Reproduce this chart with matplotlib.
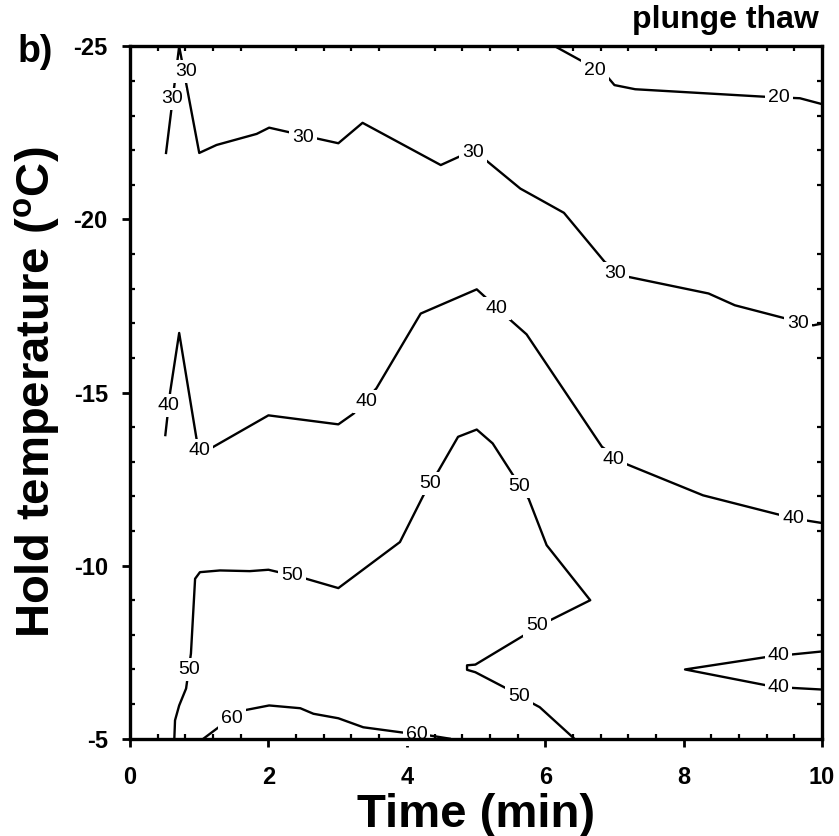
import matplotlib
matplotlib.use("Agg")
import matplotlib.pyplot as plt
from matplotlib.ticker import MultipleLocator

plt.rcParams['font.family'] = 'Liberation Sans'
plt.rcParams['axes.unicode_minus'] = False
plt.rcParams['mathtext.fontset'] = 'custom'
plt.rcParams['mathtext.rm'] = 'Liberation Sans:bold'
plt.rcParams['mathtext.bf'] = 'Liberation Sans:bold'

# contour lines: time (min) vs hold temperature (C)
c20_time = [6.14, 6.55, 6.89, 7.00, 7.30, 9.20, 9.68, 10.0]
c20_temp = [-25.0, -24.55, -24.14, -23.88, -23.76, -23.54, -23.50, -23.33]

c30_time = [0.52, 0.71, 1.00, 1.25, 1.83, 2.01, 2.67, 3.01, 3.36, 4.49, 4.93,
            5.13, 5.64, 5.92, 6.27, 6.86, 7.20, 8.36, 8.74, 9.49, 9.87, 10.0]
c30_temp = [-21.92, -25.0, -21.92, -22.15, -22.47, -22.65, -22.35, -22.20, -22.79,
            -21.57, -21.97, -21.73, -20.89, -20.58, -20.19, -18.77, -18.34, -17.86,
            -17.52, -17.13, -16.94, -16.99]

c40a_time = [0.51, 0.58, 0.71, 0.96, 1.01, 1.16, 2.00, 3.01, 3.23, 3.56, 4.20,
             5.01, 5.47, 5.73, 6.82, 7.15, 8.28, 9.42, 9.75, 10.0]
c40a_temp = [-13.77, -15.02, -16.72, -13.67, -13.27, -13.38, -14.34, -14.08, -14.39,
             -15.12, -17.28, -17.98, -17.14, -16.68, -13.43, -12.95, -12.03, -11.45,
             -11.31, -11.23]

c40b_time = [10.0, 9.20, 8.02, 9.20, 9.54, 10.0]
c40b_temp = [-7.52, -7.36, -7.00, -6.54, -6.47, -6.42]

c50_time = [0.64, 0.65, 0.71, 0.81, 0.88, 0.94, 1.01, 1.30, 1.73, 2.00, 2.51, 3.01,
            3.90, 4.24, 4.46, 4.74, 5.01, 5.24, 5.52, 5.76, 6.02, 6.65, 6.07, 5.73,
            4.99, 4.87, 4.87, 4.99, 5.47, 5.78, 5.92, 6.42]
c50_temp = [-5.0, -5.53, -5.96, -6.45, -7.46, -9.62, -9.81, -9.86, -9.84, -9.88, -9.64,
            -9.35, -10.68, -12.03, -12.75, -13.72, -13.93, -13.53, -12.66, -11.93,
            -10.59, -9.00, -8.42, -8.03, -7.14, -7.12, -6.99, -6.92, -6.42, -6.06,
            -5.91, -5.0]

c60_time = [1.06, 1.28, 1.65, 2.01, 2.46, 2.65, 3.01, 3.37, 3.93, 4.34, 4.62]
c60_temp = [-5.0, -5.33, -5.82, -5.96, -5.88, -5.72, -5.59, -5.33, -5.18, -5.09, -5.0]

lab_time = [6.72, 9.38, 0.61, 0.81, 2.50, 4.96, 7.01, 9.65, 0.56, 1.00, 3.42, 5.30,
            6.98, 9.58, 9.37, 9.37, 0.86, 2.34, 4.34, 5.62, 5.88, 5.62, 1.47, 4.14]
lab_temp = [-24.30, -23.52, -23.48, -24.28, -22.38, -21.94, -18.45, -17.00, -14.63,
            -13.33, -14.73, -17.43, -13.06, -11.37, -7.41, -6.49, -7.00, -9.72, -12.38,
            -12.28, -8.27, -6.22, -5.58, -5.12]
lab_text = ['20', '20', '30', '30', '30', '30', '30', '30', '40', '40', '40', '40',
            '40', '40', '40', '40', '50', '50', '50', '50', '50', '50', '60', '60']

fig = plt.figure(figsize=(8.39, 8.36), dpi=100)
ax = fig.add_axes([0.155, 0.1164, 0.8248, 0.8282])

lines = [(c20_time, c20_temp), (c30_time, c30_temp), (c40a_time, c40a_temp),
         (c40b_time, c40b_temp), (c50_time, c50_temp), (c60_time, c60_temp)]
for t, T in lines:
    ax.plot(t, T, color='k', lw=1.7, zorder=2)

for t, T, s in zip(lab_time, lab_temp, lab_text):
    ax.text(t, T, s, fontsize=14, ha='center', va='center', zorder=2.3,
            bbox=dict(boxstyle='square,pad=0.15', fc='white', ec='none'))

ax.set_xlim(0, 10)
ax.set_ylim(-5, -25)
ax.xaxis.set_major_locator(MultipleLocator(2))
ax.xaxis.set_minor_locator(MultipleLocator(0.4))
ax.yaxis.set_major_locator(MultipleLocator(5))
ax.yaxis.set_minor_locator(MultipleLocator(1))

ax.tick_params(which='major', direction='out', length=6, width=2,
               top=False, right=False, labelsize=17)
ax.tick_params(which='minor', direction='in', length=3.5, width=1.6,
               bottom=True, left=True, top=True, right=True)
ax.tick_params(axis='x', which='major', pad=14)
ax.tick_params(axis='y', which='major', pad=10)
for lbl in ax.get_xticklabels() + ax.get_yticklabels():
    lbl.set_fontweight('bold')
for sp in ax.spines.values():
    sp.set_linewidth(2.4)

ax.text(-0.134, 0.5, r'Hold temperature ($^{\mathbf{o}}$C)', transform=ax.transAxes,
        rotation=90, ha='center', va='center', fontsize=34, fontweight='bold')
fig.text(476 / 839, 1 - 827 / 836, 'Time (min)', ha='center', va='baseline',
         fontsize=34, fontweight='bold')
fig.text(819 / 839, 1 - 28 / 836, 'plunge thaw', ha='right', va='baseline',
         fontsize=23, fontweight='bold')
fig.text(18 / 839, 1 - 61.7 / 836, 'b)', ha='left', va='baseline',
         fontsize=27, fontweight='bold')

fig.savefig('out.png', dpi=100)
